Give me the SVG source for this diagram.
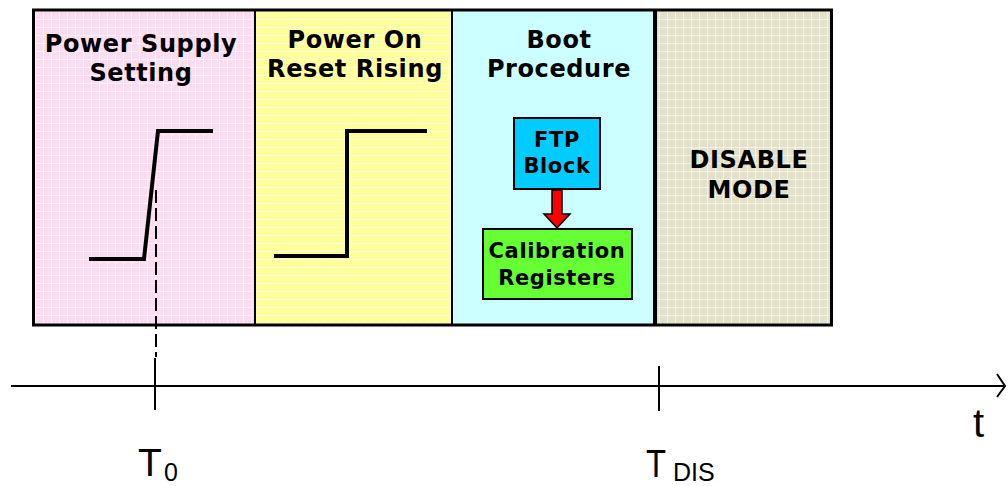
<svg xmlns="http://www.w3.org/2000/svg" width="1008" height="486" viewBox="0 0 1008 486">
<defs>
<pattern id="grid" width="8" height="8" patternUnits="userSpaceOnUse"><rect x="3" width="1" height="8" fill="#ffffff" opacity="0.6"/><rect y="3" width="8" height="1" fill="#ffffff" opacity="0.6"/></pattern>
</defs>
<style>
.title{font-family:"DejaVu Sans",Verdana,sans-serif;font-weight:bold;font-size:24px;letter-spacing:0.6px;text-anchor:middle;fill:#000}
.box{font-family:"DejaVu Sans",Verdana,sans-serif;font-weight:bold;font-size:21px;letter-spacing:0.6px;text-anchor:middle;fill:#000}
.lbl{font-family:"Liberation Sans",Arial,sans-serif;fill:#000}
.sig{fill:none;stroke:#000;stroke-width:4;stroke-linejoin:miter}
.ax{fill:none;stroke:#000;stroke-width:2}
</style>
<g id="panel-power-supply">
<rect x="32" y="9" width="223" height="316" fill="#fcdcef"/>
<rect x="32" y="9" width="223" height="316" fill="url(#grid)"/>
<text class="title" x="141" y="52">Power Supply</text>
<text class="title" x="141" y="81">Setting</text>
</g>
<g id="panel-por">
<rect x="255" y="9" width="197" height="316" fill="#ffff9c"/>
<rect x="255" y="9" width="197" height="316" fill="url(#grid)"/>
<text class="title" x="355" y="48">Power On</text>
<text class="title" x="355" y="77">Reset Rising</text>
</g>
<g id="panel-boot">
<rect x="452" y="9" width="202" height="316" fill="#ccffff"/>
<text class="title" x="559" y="48">Boot</text>
<text class="title" x="559" y="77">Procedure</text>
</g>
<g id="panel-disable">
<rect x="654" y="9" width="179" height="316" fill="#e4e1cb"/>
<rect x="654" y="9" width="179" height="316" fill="url(#grid)"/>
<text class="title" x="749" y="168">DISABLE</text>
<text class="title" x="749" y="198">MODE</text>
</g>
<g id="frame">
<rect x="33.5" y="10" width="798" height="315" fill="none" stroke="#000" stroke-width="3"/>
<line x1="255" y1="9" x2="255" y2="326" stroke="#000" stroke-width="2"/>
<line x1="452" y1="9" x2="452" y2="326" stroke="#000" stroke-width="2"/>
<line x1="655" y1="9" x2="655" y2="326" stroke="#000" stroke-width="4"/>
</g>
<g id="ftp-block">
<rect x="514" y="118" width="86" height="71" fill="#00ccff" stroke="#000" stroke-width="2"/>
<text class="box" x="557" y="147">FTP</text>
<text class="box" x="557" y="173">Block</text>
</g>
<g id="calibration-registers">
<rect x="483" y="229" width="149" height="70" fill="#66ff33" stroke="#000" stroke-width="2"/>
<text class="box" x="557" y="258">Calibration</text>
<text class="box" x="557" y="285">Registers</text>
</g>
<g id="waveform-supply">
<polyline class="sig" points="89,259 144,259 158,131 213,131"/>
</g>
<g id="waveform-por">
<polyline class="sig" points="274,256 347,256 347,131 427,131"/>
</g>
<g id="time-axis">
<line class="ax" x1="11" y1="386" x2="1004" y2="386"/>
<polyline class="ax" points="997,374 1005,386 997,397"/>
<line class="ax" x1="155" y1="358" x2="155" y2="410"/>
<line class="ax" x1="659" y1="366" x2="659" y2="411"/>
<text class="lbl" x="138" y="476" font-size="39">T</text>
<text class="lbl" x="164" y="481" font-size="25">0</text>
<text class="lbl" x="646" y="477" font-size="39" textLength="20" lengthAdjust="spacingAndGlyphs">T</text>
<text class="lbl" x="673" y="481" font-size="25">DIS</text>
<text class="lbl" x="973" y="437" font-size="40">t</text>
</g>
<g id="connectors">
<line x1="156" y1="190" x2="156" y2="357" stroke="#000" stroke-width="2" stroke-dasharray="13 5"/>
<polygon points="552,190 562,190 562,214 570,214 557,228 544,214 552,214" fill="#ff0000" stroke="#000" stroke-width="1.5"/>
</g>
</svg>
